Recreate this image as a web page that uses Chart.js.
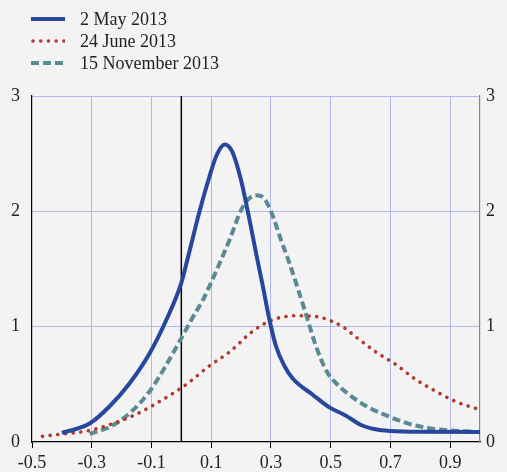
<!DOCTYPE html>
<html>
<head>
<meta charset="utf-8">
<script src="https://cdn.jsdelivr.net/npm/chart.js@4"></script>
<style>
html,body{margin:0;padding:0;background:#f3f3f3;}
#wrap{position:relative;width:507px;height:472px;}
canvas{position:absolute;left:0;top:0;}
#legend{position:absolute;left:31px;top:8px;font-family:"Liberation Serif",serif;font-size:18px;color:#222;}
.item{height:22px;display:flex;align-items:center;}
.item svg{margin-right:15px;}
</style>
</head>
<body>
<div id="wrap">
<canvas id="c" width="507" height="472"></canvas>
<div id="legend"></div>
</div>
<script>
// Series names
const seriesNames = ["2 May 2013", "24 June 2013", "15 November 2013"];
// 2 May 2013
const mayX = [-0.40,-0.35,-0.307,-0.24,-0.173,-0.106,-0.05,0.00,0.022,0.061,0.094,0.117,0.145,0.17,0.20,0.228,0.25,0.273,0.295,0.317,0.345,0.373,0.44,0.496,0.55,0.60,0.65,0.70,0.80,1.00];
const mayY = [0.08,0.115,0.16,0.31,0.51,0.77,1.06,1.38,1.60,2.00,2.30,2.48,2.58,2.52,2.27,1.93,1.64,1.35,1.06,0.83,0.66,0.55,0.41,0.30,0.23,0.15,0.11,0.095,0.088,0.087];
// 24 June 2013
const junX = [-0.465,-0.396,-0.307,-0.229,-0.151,-0.084,-0.017,0.022,0.094,0.161,0.239,0.306,0.39,0.44,0.468,0.54,0.585,0.652,0.719,0.786,0.852,0.919,1.00];
const junY = [0.05,0.07,0.10,0.16,0.24,0.335,0.44,0.51,0.66,0.78,0.96,1.06,1.095,1.09,1.08,1.00,0.91,0.78,0.67,0.54,0.44,0.35,0.28];
// 15 November 2013
const novX = [-0.307,-0.24,-0.173,-0.106,-0.05,0.00,0.038,0.072,0.094,0.161,0.206,0.25,0.278,0.30,0.334,0.362,0.395,0.423,0.451,0.485,0.518,0.557,0.62,0.696,0.76,0.83,0.90,0.97];
const novY = [0.07,0.13,0.25,0.44,0.67,0.90,1.08,1.23,1.35,1.75,2.04,2.14,2.11,2.00,1.75,1.55,1.29,1.06,0.83,0.62,0.51,0.42,0.31,0.22,0.16,0.12,0.10,0.09];
// Tick labels
const xTicks = [-0.5,-0.3,-0.1,0.1,0.3,0.5,0.7,0.9];
const yTicks = [0,1,2,3];

const colors = ["#26479c", "#b03a2e", "#5b8a95"];
const dashes = [[], [0.1, 7.6], [8, 4]];
const widths = [4, 3.6, 4];

function pts(xs, ys){ return xs.map((x,i)=>({x:x, y:ys[i]})); }

const gridBlue = "#b1b8f0";
const FONT = {family:"'Liberation Serif', serif", size:18};

const zeroLine = {
  id:'zeroLine',
  beforeDatasetsDraw(chart){
    const {ctx, chartArea, scales} = chart;
    const x = scales.x.getPixelForValue(0);
    ctx.save();
    ctx.strokeStyle = "#000";
    ctx.lineWidth = 1.5;
    ctx.beginPath();
    ctx.moveTo(x, chartArea.top);
    ctx.lineTo(x, chartArea.bottom);
    ctx.stroke();
    ctx.restore();
  }
};

new Chart(document.getElementById('c'), {
  type:'line',
  data:{
    datasets:[
      {label:seriesNames[0], data:pts(mayX,mayY)},
      {label:seriesNames[1], data:pts(junX,junY)},
      {label:seriesNames[2], data:pts(novX,novY)}
    ].map((d,i)=>Object.assign(d,{
      borderColor:colors[i], borderWidth:widths[i], borderDash:dashes[i],
      borderCapStyle: i===1 ? 'round' : 'butt', pointRadius:0,
      cubicInterpolationMode:'monotone', fill:false
    }))
  },
  options:{
    responsive:false, animation:false,
    layout:{padding:{top:96,left:0,right:0,bottom:0}},
    plugins:{legend:{display:false}, tooltip:{enabled:false}},
    scales:{
      x:{
        type:'linear', min:-0.5, max:1.0,
        afterBuildTicks(s){ s.ticks = xTicks.map(v=>({value:v})); },
        afterFit(s){ s.height = 30; },
        ticks:{font:FONT, color:"#222", padding:4, maxRotation:0,
          callback:(v)=>String(Math.round(v*10)/10)},
        grid:{color:(c)=> c.tick && c.tick.value===-0.5 ? 'rgba(0,0,0,0)' : gridBlue,
          tickColor:"#000", tickLength:6, lineWidth:1},
        border:{color:"#000", width:1.2}
      },
      y:{
        position:'left', min:0, max:3,
        afterBuildTicks(s){ s.ticks = yTicks.map(v=>({value:v})); },
        afterFit(s){ s.width = 32; },
        ticks:{font:FONT, color:"#222", padding:12},
        grid:{color:(c)=> c.tick && c.tick.value===0 ? 'rgba(0,0,0,0)' : gridBlue, drawTicks:false, lineWidth:1},
        border:{color:"#000", width:1.2}
      },
      y2:{
        position:'right', min:0, max:3,
        afterBuildTicks(s){ s.ticks = yTicks.map(v=>({value:v})); },
        afterFit(s){ s.width = 27; },
        ticks:{font:FONT, color:"#222", padding:6},
        grid:{display:false, drawTicks:false},
        border:{color:"#888", width:1.2}
      }
    }
  },
  plugins:[zeroLine]
});

// HTML legend
const leg = document.getElementById('legend');
seriesNames.forEach((n,i)=>{
  const div = document.createElement('div');
  div.className='item';
  const dash = dashes[i].length ? dashes[i].join(' ') : 'none';
  div.innerHTML = `<svg width="34" height="8"><line x1="${i===1?2:0}" y1="4" x2="34" y2="4" stroke="${colors[i]}" stroke-width="${widths[i]}" stroke-dasharray="${dash}" stroke-linecap="${i===1?'round':'butt'}"/></svg><span>${n}</span>`;
  leg.appendChild(div);
});
</script>
</body>
</html>
